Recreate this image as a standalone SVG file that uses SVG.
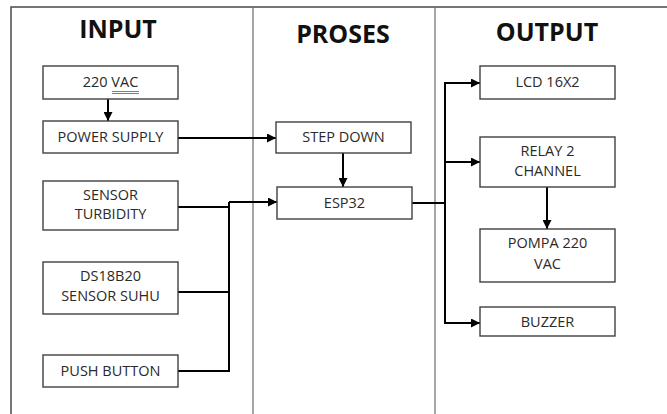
<svg xmlns="http://www.w3.org/2000/svg" width="667" height="414" viewBox="0 0 667 414">
<defs>
<marker id="arr" viewBox="0 0 10 10" refX="10" refY="5" markerWidth="4.5" markerHeight="4.5" markerUnits="strokeWidth" orient="auto">
<path d="M0,0 L10,5 L0,10 z" fill="#000"/>
</marker>
<style>
.frame{fill:none;stroke:#4a4a4a;stroke-width:1.5}
.div{stroke:#6a6a6a;stroke-width:1.2}
.box{fill:#fff;stroke:#404040;stroke-width:1.4}
.t{font-family:"Open Sans","Liberation Sans",sans-serif;font-size:14.5px;fill:#2a2a2a;text-anchor:middle}
.h{font-family:"Open Sans","Liberation Sans",sans-serif;font-size:25px;font-weight:bold;fill:#111;text-anchor:middle}
.c{fill:none;stroke:#000;stroke-width:2}
.ca{fill:none;stroke:#000;stroke-width:2;marker-end:url(#arr)}
</style>
</defs>
<rect width="667" height="414" fill="#fff"/>
<g id="frame">
<path class="frame" d="M11,414 V7 H667"/>
<line class="div" x1="253" y1="7" x2="253" y2="414"/>
<line class="div" x1="435" y1="7" x2="435" y2="414"/>
<text class="h" x="118" y="38">INPUT</text>
<text class="h" x="343" y="43">PROSES</text>
<text class="h" x="547" y="41">OUTPUT</text>
</g>
<g id="connectors">
<line class="ca" x1="108" y1="99" x2="108" y2="121"/>
<line class="ca" x1="178" y1="138" x2="276" y2="138"/>
<line class="ca" x1="343" y1="153" x2="343" y2="187"/>
<polyline class="c" points="178,207 229,207"/>
<polyline class="c" points="178,292 229,292"/>
<polyline class="c" points="178,371 229,371 229,202"/>
<polyline class="ca" points="229,202 277,202"/>
<polyline class="c" points="412,203 445,203"/>
<polyline class="ca" points="445,203 445,83 480,83"/>
<line class="ca" x1="445" y1="162" x2="480" y2="162"/>
<polyline class="ca" points="445,203 445,323 480,323"/>
<line class="ca" x1="547" y1="187" x2="547" y2="229"/>
</g>
<g id="n220vac">
<rect class="box" x="43" y="66" width="135" height="33"/>
<text class="t" x="110.5" y="87">220 VAC</text>
<line x1="112" y1="91.5" x2="139" y2="91.5" stroke="#4a6fd0" stroke-width="0.9"/>
<line x1="112" y1="93.5" x2="139" y2="93.5" stroke="#4a6fd0" stroke-width="0.9"/>
</g>
<g id="powersupply">
<rect class="box" x="43" y="121" width="135" height="32"/>
<text class="t" x="110.5" y="142">POWER SUPPLY</text>
</g>
<g id="turbidity">
<rect class="box" x="43" y="181" width="135" height="49"/>
<text class="t" x="110.5" y="200">SENSOR</text>
<text class="t" x="110.5" y="219">TURBIDITY</text>
</g>
<g id="ds18b20">
<rect class="box" x="43" y="262" width="135" height="52"/>
<text class="t" x="110.5" y="281">DS18B20</text>
<text class="t" x="110.5" y="301">SENSOR SUHU</text>
</g>
<g id="pushbutton">
<rect class="box" x="43" y="355" width="135" height="32"/>
<text class="t" x="110.5" y="376">PUSH BUTTON</text>
</g>
<g id="stepdown">
<rect class="box" x="276" y="122" width="135" height="31"/>
<text class="t" x="343.5" y="142">STEP DOWN</text>
</g>
<g id="esp32">
<rect class="box" x="277" y="187" width="135" height="32"/>
<text class="t" x="344.5" y="208">ESP32</text>
</g>
<g id="lcd">
<rect class="box" x="480" y="66" width="135" height="33"/>
<text class="t" x="547.5" y="87">LCD 16X2</text>
</g>
<g id="relay">
<rect class="box" x="480" y="137" width="135" height="50"/>
<text class="t" x="547.5" y="156">RELAY 2</text>
<text class="t" x="547.5" y="176">CHANNEL</text>
</g>
<g id="pompa">
<rect class="box" x="480" y="229" width="135" height="53"/>
<text class="t" x="547.5" y="248">POMPA 220</text>
<text class="t" x="547.5" y="269">VAC</text>
</g>
<g id="buzzer">
<rect class="box" x="480" y="307" width="135" height="29"/>
<text class="t" x="547.5" y="327">BUZZER</text>
</g>
</svg>
